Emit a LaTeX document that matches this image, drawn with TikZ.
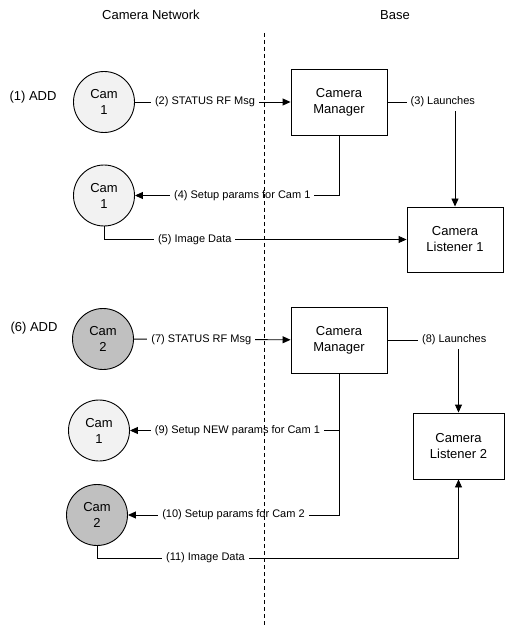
\documentclass[tikz,border=0pt]{standalone}
\usepackage{fontspec}
\setmainfont{Liberation Sans}
\usetikzlibrary{arrows.meta}

\definecolor{camlight}{RGB}{242,242,242}
\definecolor{camdark}{RGB}{192,192,192}

\begin{document}
\begin{tikzpicture}[x=1pt, y=-1pt, line width=0.9pt,
    cam/.style={draw, shape=circle, minimum size=61pt, inner sep=0pt, fill=camlight,
        align=center, font=\fontsize{13}{16}\selectfont},
    camtwo/.style={cam, fill=camdark},
    box/.style={draw, shape=rectangle, minimum width=96pt, minimum height=66pt,
        align=center, font=\fontsize{13}{16}\selectfont},
    lbl/.style={fill=white, inner sep=4pt, font=\fontsize{11}{13}\selectfont},
    txt/.style={font=\fontsize{13}{16}\selectfont},
    arr/.style={-{Triangle[length=8pt,width=7pt]}}]

    \useasboundingbox (0,0) rectangle (505,628);

    \node(t1)[txt] at (151,15) {Camera Network};
    \node(t2)[txt] at (395,15) {Base};
    \node(a1)[txt] at (33,97) {(1) ADD};
    \node(a6)[txt] at (34,328) {(6) ADD};

    \node(cam1a)[cam] at (104,102) {Cam\\1};
    \node(cam1b)[cam] at (104,195.5) {Cam\\1};
    \node(cam2a)[camtwo] at (103,339) {Cam\\2};
    \node(cam1c)[cam] at (99,430.5) {Cam\\1};
    \node(cam2b)[camtwo] at (97,515) {Cam\\2};

    \node(mgr1)[box] at (339,102) {Camera\\Manager};
    \node(mgr2)[box] at (339,340) {Camera\\Manager};
    \node(lst1)[box, minimum height=65pt] at (455,239.5) {Camera\\Listener 1};
    \node(lst2)[box, minimum width=91pt] at (458.5,446) {Camera\\Listener 2};

    \draw[arr] (cam1a) -- node[lbl, pos=0.45] {(2) STATUS RF Msg} (mgr1);
    \draw[arr] (mgr1.east) -| node[lbl, pos=0.41] {(3) Launches} (lst1.north);
    \draw[arr] (mgr1.south) |- node[lbl, pos=0.737] {(4) Setup params for Cam 1} (cam1b.east);
    \draw[arr] (cam1b.south) |- node[lbl, pos=0.65] {(5) Image Data} (lst1.west);

    \draw[arr] (cam2a) -- node[lbl, pos=0.43] {(7) STATUS RF Msg} (mgr2);
    \draw[arr] (mgr2.east) -| node[lbl, pos=0.47] {(8) Launches} (lst2.north);
    \draw[arr] (mgr2.south) |- node[lbl, pos=0.743] {(9) Setup NEW params for Cam 1} (cam1c.east);
    \draw[arr] (mgr2.south) |- node[lbl, pos=0.75] {(10) Setup params for Cam 2} (cam2b.east);
    \draw[arr] (cam2b.south) -- ++(0,12) -| node[lbl, pos=0.15] {(11) Image Data} (lst2.south);

    % separator between camera side and base side
    \coordinate (sepTop) at (264,33);
    \coordinate (sepBot) at (264,628);
    \draw[dash pattern=on 4pt off 3pt] (sepTop) -- (sepBot);
\end{tikzpicture}
\end{document}
